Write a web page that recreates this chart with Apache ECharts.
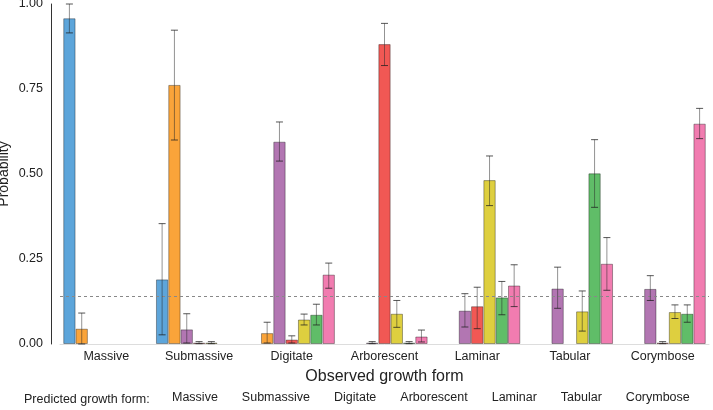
<!DOCTYPE html>
<html>
<head>
<meta charset="utf-8">
<script src="https://cdn.jsdelivr.net/npm/echarts@6/dist/echarts.min.js"></script>
<style>
  html, body { margin: 0; padding: 0; background: #fff; }
  #chart { width: 713px; height: 410px; }
</style>
</head>
<body>
<div id="chart"></div>
<script>
// observed growth form (x axis)
var categories = ['Massive', 'Submassive', 'Digitate', 'Arborescent', 'Laminar', 'Tabular', 'Corymbose'];
// predicted growth form (one series each)
var predicted = ['Massive', 'Submassive', 'Digitate', 'Arborescent', 'Laminar', 'Tabular', 'Corymbose'];
var yTicks = [0, 0.25, 0.5, 0.75, 1];

// mean probability per observed form
var massive     = [0.958, 0.190, 0,     0,     0,     0,     0];
var submassive  = [0.045, 0.762, 0.032, 0,     0,     0,     0];
var digitate    = [0,     0.043, 0.595, 0.004, 0.098, 0.163, 0.162];
var arborescent = [0,     0.004, 0.013, 0.882, 0.111, 0,     0.004];
var laminar     = [0,     0.004, 0.072, 0.089, 0.482, 0.096, 0.094];
var tabular     = [0,     0,     0.086, 0.004, 0.137, 0.502, 0.089];
var corymbose   = [0,     0,     0.204, 0.022, 0.172, 0.236, 0.648];

// error bar low / high
var massiveLo     = [0.915, 0.027, null, null, null, null, null];
var massiveHi     = [1.000, 0.354, null, null, null, null, null];
var submassiveLo  = [0.000, 0.600, 0.003, null, null, null, null];
var submassiveHi  = [0.091, 0.923, 0.064, null, null, null, null];
var digitateLo    = [null, 0.003, 0.538, 0.001, 0.050, 0.105, 0.128];
var digitateHi    = [null, 0.089, 0.653, 0.007, 0.148, 0.226, 0.201];
var arborescentLo = [null, 0.001, 0.003, 0.819, 0.045, null, 0.001];
var arborescentHi = [null, 0.007, 0.024, 0.943, 0.167, null, 0.007];
var laminarLo     = [null, 0.001, 0.056, 0.049, 0.407, 0.038, 0.075];
var laminarHi     = [null, 0.007, 0.088, 0.128, 0.553, 0.156, 0.115];
var tabularLo     = [null, null, 0.056, 0.001, 0.086, 0.402, 0.064];
var tabularHi     = [null, null, 0.117, 0.007, 0.184, 0.601, 0.115];
var corymboseLo   = [null, null, 0.164, 0.006, 0.110, 0.158, 0.604];
var corymboseHi   = [null, null, 0.238, 0.041, 0.233, 0.313, 0.693];

var chance = 1 / 7;

var means = [massive, submassive, digitate, arborescent, laminar, tabular, corymbose];
var lows = [massiveLo, submassiveLo, digitateLo, arborescentLo, laminarLo, tabularLo, corymboseLo];
var highs = [massiveHi, submassiveHi, digitateHi, arborescentHi, laminarHi, tabularHi, corymboseHi];
var colors = ['#5DA5DA', '#FAA43A', '#B276B2', '#F15854', '#DECF3F', '#60BD68', '#F17CB0'];

var font = 'Liberation Sans, Arial, sans-serif';
var catGap = 0.07;

var chart = echarts.init(document.getElementById('chart'));

var series = [];
predicted.forEach(function(name, i) {
    var s = {
        name: name,
        type: 'bar',
        // zero means no bar at all
        data: means[i].map(function(v) { return v === 0 ? null : v; }),
        barGap: '0%',
        barCategoryGap: (catGap * 100) + '%',
        itemStyle: { color: colors[i], borderColor: 'rgba(0,0,0,0.35)', borderWidth: 1 }
    };
    if (i === 0) {
        s.markLine = {
            silent: true,
            symbol: 'none',
            label: { show: false },
            lineStyle: { color: '#888', type: [3, 3], width: 1 },
            data: [{ yAxis: chance }]
        };
    }
    series.push(s);
});

// error bars, one custom series per predicted form
predicted.forEach(function(name, i) {
    var errData = [];
    categories.forEach(function(c, k) {
        if (lows[i][k] !== null) errData.push([k, lows[i][k], highs[i][k]]);
    });
    series.push({
        type: 'custom',
        silent: true,
        z: 10,
        data: errData,
        renderItem: function(params, api) {
            var k = api.value(0);
            var lo = api.coord([k, api.value(1)]);
            var hi = api.coord([k, api.value(2)]);
            var band = api.size([1, 0])[0];
            var bw = band * (1 - catGap) / predicted.length;
            var x = lo[0] + (i - (predicted.length - 1) / 2) * bw;
            var cap = 3.5;
            var st = { stroke: 'rgba(40,40,40,0.5)', lineWidth: 1 };
            var capSt = { stroke: 'rgba(30,30,30,0.75)', lineWidth: 1 };
            return {
                type: 'group',
                children: [
                    { type: 'line', shape: { x1: x, y1: lo[1], x2: x, y2: hi[1] }, style: st },
                    { type: 'line', shape: { x1: x - cap, y1: hi[1], x2: x + cap, y2: hi[1] }, style: capSt },
                    { type: 'line', shape: { x1: x - cap, y1: lo[1], x2: x + cap, y2: lo[1] }, style: capSt }
                ]
            };
        }
    });
});

var option = {
    animation: false,
    textStyle: { fontFamily: font },
    grid: { left: 60, right: 4, top: 4, bottom: 66, outerBoundsMode: 'none', containLabel: false },
    legend: {
        data: predicted,
        bottom: 1,
        left: 161,
        itemWidth: 0,
        itemHeight: 0,
        itemGap: 18,
        selectedMode: false,
        textStyle: { fontFamily: font, fontSize: 12.5, color: '#222' }
    },
    graphic: [{
        type: 'text',
        left: 24,
        top: 393,
        style: { text: 'Predicted growth form:', font: '12.5px ' + font, fill: '#222' }
    }],
    xAxis: {
        type: 'category',
        data: categories,
        name: 'Observed growth form',
        nameLocation: 'middle',
        nameGap: 25,
        nameMoveOverlap: false,
        nameTextStyle: { fontSize: 16, color: '#222', fontFamily: font },
        axisLine: { lineStyle: { color: '#ddd' } },
        axisTick: { show: false },
        axisLabel: { fontSize: 12.5, color: '#222', margin: 6 }
    },
    yAxis: {
        type: 'value',
        min: 0,
        max: 1,
        interval: 0.25,
        offset: 9,
        name: 'Probability',
        nameLocation: 'middle',
        nameGap: 40,
        nameMoveOverlap: false,
        nameTextStyle: { fontSize: 14, color: '#222', fontFamily: font },
        axisLine: { show: true, lineStyle: { color: '#333' } },
        axisTick: { show: false },
        splitLine: { show: false },
        axisLabel: {
            fontSize: 12.5, color: '#222', margin: 8,
            formatter: function(v) { return yTicks.indexOf(v) >= 0 ? v.toFixed(2) : ''; }
        }
    },
    series: series
};

chart.setOption(option);
</script>
</body>
</html>
